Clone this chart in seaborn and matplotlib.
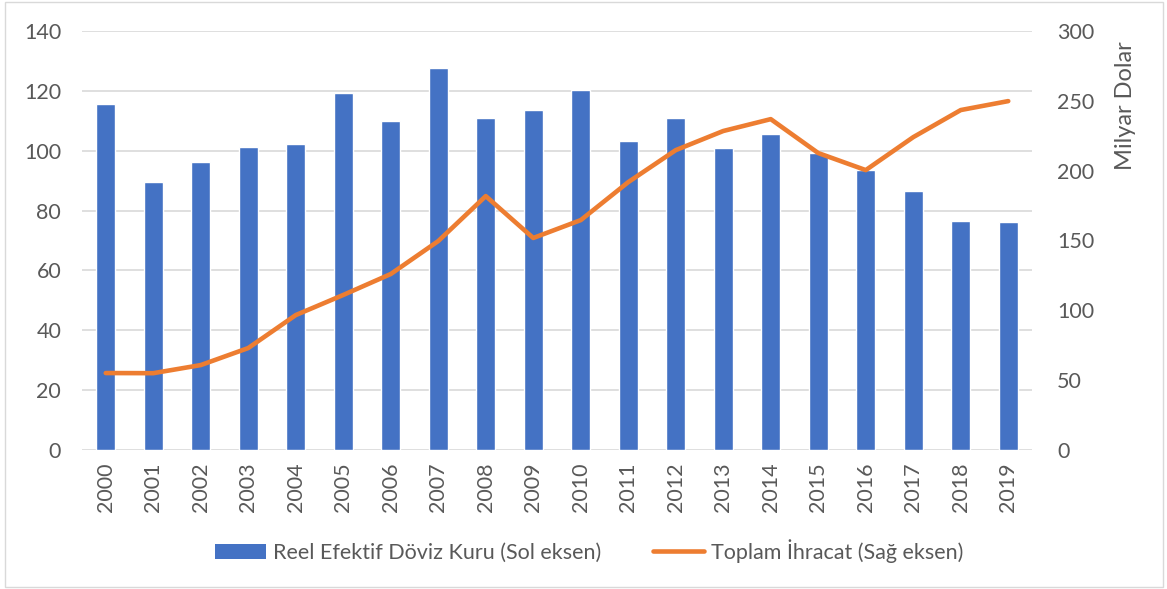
import numpy as np
import pandas as pd
import matplotlib
matplotlib.use("Agg")
import matplotlib.pyplot as plt
from matplotlib.patches import Rectangle
from matplotlib.lines import Line2D
import seaborn as sns

years = [str(y) for y in range(2000, 2020)]
reel_efektif = [115.6, 89.5, 96.2, 101.2, 102.2, 119.3, 109.9, 127.6, 110.9, 113.6,
                120.3, 103.2, 110.9, 100.9, 105.6, 99.2, 93.5, 86.5, 76.5, 76.2]
toplam_ihracat = [55.1, 55.0, 60.8, 73.0, 96.6, 111.0, 126.0, 149.6, 181.8, 151.8,
                  164.6, 191.8, 214.7, 228.4, 236.9, 212.6, 200.4, 224.0, 243.4, 249.8]

bar_label = "Reel Efektif Döviz Kuru (Sol eksen)"
line_label = "Toplam İhracat (Sağ eksen)"

BLUE = "#4472C4"
ORANGE = "#ED7D31"
TEXT = "#595959"
GRID = "#D9D9D9"
FS = 15.5

sns.set_theme(style="white")
plt.rcParams["font.family"] = ["Lato", "DejaVu Sans"]

df = pd.DataFrame({"yil": years, "reel": reel_efektif, "ihracat": toplam_ihracat})
df["pos"] = np.arange(len(df))

fig = plt.figure(figsize=(11.67, 5.89), dpi=100)
ax = fig.add_axes([82 / 1167, 1 - 450 / 589, 950 / 1167, 419 / 589])

sns.barplot(data=df, x="yil", y="reel", color=BLUE, width=0.4, saturation=1,
            ax=ax, zorder=2)
ax.set_ylim(0, 140)
ax.set_yticks(np.arange(0, 141, 20))
ax.set_xlim(-0.5, len(df) - 0.5)
ax.grid(axis="y", color=GRID, linewidth=1.2, zorder=0)
ax.set_axisbelow(True)
for s in ax.spines.values():
    s.set_visible(False)
ax.set_xlabel("")
ax.set_ylabel("")
ax.tick_params(axis="y", length=0, pad=15, labelsize=FS, labelcolor=TEXT)
ax.tick_params(axis="x", length=0, pad=9, labelsize=FS, labelcolor=TEXT,
               labelrotation=90)

ax2 = ax.twinx()
sns.lineplot(data=df, x="pos", y="ihracat", color=ORANGE, linewidth=3.3,
             ax=ax2, zorder=3)
ax2.set_ylim(0, 300)
ax2.set_yticks(np.arange(0, 301, 50))
ax2.set_xlim(-0.5, len(df) - 0.5)
for s in ax2.spines.values():
    s.set_visible(False)
ax2.grid(False)
ax2.set_xlabel("")
ax2.set_ylabel("Milyar Dolar", fontsize=17, color=TEXT)
ax2.yaxis.set_label_coords((1115 - 82) / 950, (450 - 106) / 419)
ax2.tick_params(axis="y", length=0, pad=18, labelsize=FS, labelcolor=TEXT)

handles = [Rectangle((0, 0), 1, 1, facecolor=BLUE, edgecolor="none"),
           Line2D([0], [0], color=ORANGE, linewidth=3.3)]
fig.legend(handles, [bar_label, line_label], loc="center",
           bbox_to_anchor=(589 / 1167, 1 - 551 / 589), ncol=2, frameon=False,
           fontsize=FS, labelcolor=TEXT, handlelength=2.4, handleheight=0.7,
           handletextpad=0.3, columnspacing=2.4)

# thin frame around the whole chart area
fig.add_artist(Rectangle((5 / 1167, 2 / 589), 1158 / 1167, 585 / 589,
                         transform=fig.transFigure, fill=False,
                         edgecolor="#D9D9D9", linewidth=1))

fig.savefig("out.png", dpi=100, facecolor="white")
